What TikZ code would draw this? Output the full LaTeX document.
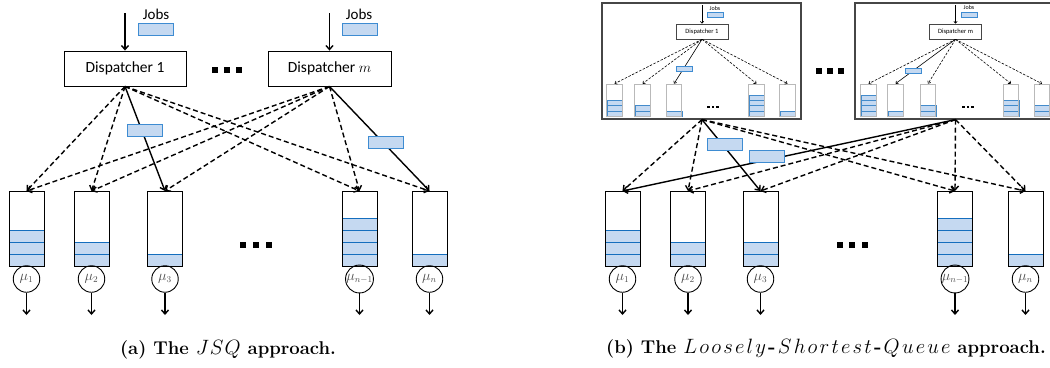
\documentclass[tikz,border=0pt]{standalone}
\usepackage{fontspec}
\newfontfamily\lblfont{Carlito}
\usetikzlibrary{arrows.meta,calc}
\definecolor{jobfill}{RGB}{197,217,241}
\definecolor{jobline}{RGB}{62,140,210}
\definecolor{slotline}{RGB}{20,110,190}
\definecolor{boxgray}{RGB}{70,70,70}
\definecolor{qgray}{RGB}{185,185,185}
\tikzset{
  ar/.style={line width=1.4pt,-{Straight Barb[length=4pt,width=7pt]}},
  dar/.style={ar,dash pattern=on 5pt off 3pt},
  iar/.style={line width=0.6pt,-{Straight Barb[length=2pt,width=3.5pt]}},
  idar/.style={iar,dash pattern=on 2.5pt off 1.5pt},
  disp/.style={draw,line width=0.9pt,minimum height=35pt,inner sep=0pt,font=\lblfont\fontsize{15.5}{16}\selectfont},
  idisp/.style={draw=boxgray,line width=0.6pt,minimum width=52pt,minimum height=15pt,inner sep=0pt,font=\lblfont\fontsize{6.5}{7}\selectfont},
  jobtxt/.style={inner sep=0pt,font=\lblfont\fontsize{15}{16}\selectfont},
  ijobtxt/.style={inner sep=0pt,font=\lblfont\fontsize{6}{7}\selectfont},
  job/.style={draw=jobline,fill=jobfill,line width=1pt,minimum width=35pt,minimum height=12pt,inner sep=0pt},
  ijob/.style={draw=jobline,fill=jobfill,line width=0.6pt,minimum width=16pt,minimum height=5pt,inner sep=0pt},
  slotst/.style={draw=slotline,fill=jobfill,line width=1pt},
  islot/.style={draw=slotline!80,fill=jobfill,line width=0.5pt},
  queue/.style={draw,line width=1pt,minimum width=35pt,minimum height=75pt,inner sep=0pt},
  iqueue/.style={draw=qgray,line width=0.6pt,minimum width=15.5pt,minimum height=32pt,inner sep=0pt},
  server/.style={draw,circle,line width=0.9pt,minimum size=26.5pt,inner sep=0pt,font=\fontsize{13.5}{14}\selectfont,text=black!70},
  bbox/.style={draw=boxgray,line width=1.2pt,minimum height=116pt,inner sep=0pt},
  captext/.style={inner sep=0pt,font=\fontsize{18.5}{20}\selectfont\bfseries}
}
\newcommand\lsp{\kern2.2pt}
\newcommand\bigit{\fontsize{20}{20}\selectfont}
\newcommand\bigqueue[4]{%
  \foreach \k in {1,...,#3}{\filldraw[slotst] (#2-17.5,266-12*\k) rectangle (#2+17.5,278-12*\k);}
  \node[queue] (#1) at (#2,228.5) {};
  \node[server] (#1s) at (#2,279) {#4};
  \coordinate (#1o) at (#2,315);
  \draw[ar] (#1s) -- (#1o);
}
\newcommand\smallqueue[3]{%
  \foreach \k in {1,...,#3}{\filldraw[islot] (#2-7.75,116-5.2*\k) rectangle (#2+7.75,121.2-5.2*\k);}
  \node[iqueue] (#1) at (#2,100) {};
}
\newcommand\sqdots[4]{%
  \foreach \i in {0,1,2}{\fill (#1+\i*#4-#4-#3/2,#2-#3/2) rectangle (#1+\i*#4-#4+#3/2,#2+#3/2);}
}
\begin{document}
\begin{tikzpicture}[x=1pt,y=-1pt]
\useasboundingbox (0,0) rectangle (1050,367);
\clip (0,0) rectangle (1050,367);

% ---------------- (a) ----------------
\node[disp,minimum width=122pt] (D1) at (125,68.5) {Dispatcher 1};
\node[disp,minimum width=123pt] (Dm) at (329.5,68.5) {Dispatcher $m$};
\node[jobtxt] (J1t) at (156,14) {Jobs};
\node[jobtxt] (Jmt) at (359,14) {Jobs};
\node[job] (J1) at (155.5,29) {};
\node[job] (Jm) at (359.5,29) {};
\coordinate (J1a) at (125,13);
\coordinate (Jma) at (329.5,13);
\draw[ar] (J1a) -- (D1.north);
\draw[ar] (Jma) -- (Dm.north);
\sqdots{227}{70}{6.5}{12.2}

\coordinate (q1t) at (26.5,191);
\coordinate (q2t) at (91.5,191);
\coordinate (q3t) at (165,191);
\coordinate (q4t) at (359.5,191);
\coordinate (q5t) at (429.5,191);
\draw[dar] (D1.south) -- (q1t);
\draw[dar] (D1.south) -- (q2t);
\draw[ar]  (D1.south) -- (q3t);
\draw[dar] (D1.south) -- (q4t);
\draw[dar] (D1.south) -- (q5t);
\draw[dar] (Dm.south) -- (q1t);
\draw[dar] (Dm.south) -- (q2t);
\draw[dar] (Dm.south) -- (q3t);
\draw[dar] (Dm.south) -- (q4t);
\draw[ar]  (Dm.south) -- (q5t);
\node[job] (Ja1) at (144.5,130) {};
\node[job] (Ja2) at (385.5,142) {};

\bigqueue{qa1}{26.5}{3}{$\mu_1$}
\bigqueue{qa2}{91.5}{2}{$\mu_2$}
\bigqueue{qa3}{165}{1}{$\mu_3$}
\bigqueue{qa4}{359.5}{4}{$\mu_{n-1}$}
\bigqueue{qa5}{429.5}{1}{$\mu_n$}
\sqdots{256}{245}{6}{12.8}

\node[captext] (capa) at (228,350) {(a) The {\bigit$J\kern1pt S\kern1pt Q$} approach.};

% ---------------- (b) ----------------
\node[bbox,minimum width=199pt] (B1) at (701.5,61) {};
\node[bbox,minimum width=198pt] (B2) at (954,61) {};
\sqdots{830}{71}{5.5}{11}

% inner box 1
\node[idisp] (ID1) at (702,31.5) {Dispatcher 1};
\node[ijobtxt] (IJ1t) at (715,8) {Jobs};
\node[ijob] (IJ1) at (715,14.5) {};
\coordinate (IJ1a) at (702,5);
\draw[iar] (IJ1a) -- (ID1.north);
\smallqueue{ia1}{614.5}{3}
\smallqueue{ia2}{642.5}{2}
\smallqueue{ia3}{674}{1}
\smallqueue{ia4}{756.5}{4}
\smallqueue{ia5}{787.5}{1}
\draw[idar] (ID1.south) -- (ia1.north);
\draw[idar] (ID1.south) -- (ia2.north);
\draw[iar]  (ID1.south) -- (ia3.north);
\draw[idar] (ID1.south) -- (ia4.north);
\draw[idar] (ID1.south) -- (ia5.north);
\node[ijob] (IJa) at (684,68.5) {};
\sqdots{713}{107}{2.6}{4.5}

% inner box 2
\node[idisp] (IDm) at (955.5,31.5) {Dispatcher m};
\node[ijobtxt] (IJmt) at (969,7.5) {Jobs};
\node[ijob] (IJm) at (969.5,14.5) {};
\coordinate (IJma) at (955.5,5);
\draw[iar] (IJma) -- (IDm.north);
\smallqueue{ib1}{868.5}{4}
\smallqueue{ib2}{895.5}{1}
\smallqueue{ib3}{928}{2}
\smallqueue{ib4}{1011}{3}
\smallqueue{ib5}{1042}{2}
\draw[idar] (IDm.south) -- (ib1.north);
\draw[iar]  (IDm.south) -- (ib2.north);
\draw[idar] (IDm.south) -- (ib3.north);
\draw[idar] (IDm.south) -- (ib4.north);
\draw[idar] (IDm.south) -- (ib5.north);
\node[ijob] (IJb) at (913,70.5) {};
\sqdots{968}{107}{2.6}{4.5}

% bottom queues (b)
\coordinate (B1s) at (ID1.south |- B1.south);
\coordinate (B2s) at (IDm.south |- B2.south);
\coordinate (r1t) at (622.5,191);
\coordinate (r2t) at (688,191);
\coordinate (r3t) at (760.5,191);
\coordinate (r4t) at (955,191);
\coordinate (r5t) at (1025.5,191);
\draw[dar] (B1s) -- (r1t);
\draw[dar] (B1s) -- (r2t);
\draw[ar]  (B1s) -- (r3t);
\draw[dar] (B1s) -- (r4t);
\draw[dar] (B1s) -- (r5t);
\draw[ar]  (B2s) -- (r1t);
\draw[dar] (B2s) -- (r2t);
\draw[dar] (B2s) -- (r3t);
\draw[dar] (B2s) -- (r4t);
\draw[dar] (B2s) -- (r5t);
\node[job] (Jb1) at (724.5,144) {};
\node[job] (Jb2) at (767,156.5) {};

\bigqueue{qb1}{622.5}{3}{$\mu_1$}
\bigqueue{qb2}{688}{2}{$\mu_2$}
\bigqueue{qb3}{760.5}{2}{$\mu_3$}
\bigqueue{qb4}{955}{4}{$\mu_{n-1}$}
\bigqueue{qb5}{1025.5}{1}{$\mu_n$}
\sqdots{852}{245}{6}{12.5}

\node[captext] (capb) at (826,349) {(b) The {\bigit$L\lsp o\lsp o\lsp s\lsp e\lsp l\lsp y$\lsp-\lsp$S\lsp h\lsp o\lsp r\lsp t\lsp e\lsp s\lsp t$\lsp-\lsp$Q\lsp u\lsp e\lsp u\lsp e$} approach.};
\end{tikzpicture}
\end{document}
